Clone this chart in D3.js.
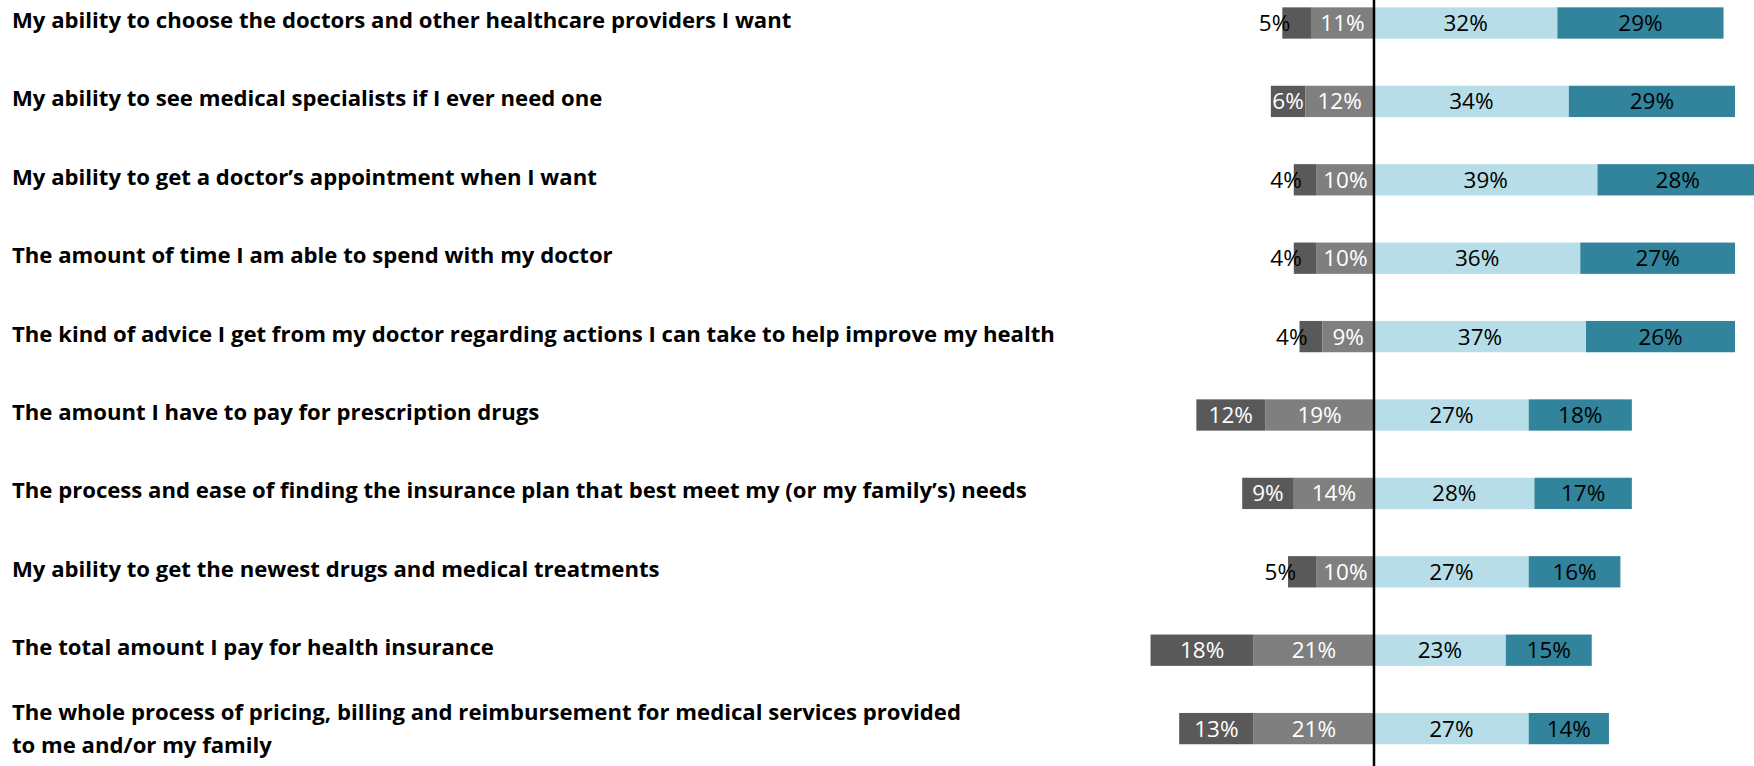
<!DOCTYPE html>
<html>
<head>
<meta charset="utf-8">
<script src="https://cdn.jsdelivr.net/npm/d3@7/dist/d3.min.js"></script>
<style>
  html, body { margin: 0; padding: 0; background: #ffffff; }
  svg { display: block; }
</style>
</head>
<body>
<svg id="chart" width="1754" height="766"></svg>
<script>
// ---- Data ----
const categories = [
  ["My ability to choose the doctors and other healthcare providers I want"],
  ["My ability to see medical specialists if I ever need one"],
  ["My ability to get a doctor’s appointment when I want"],
  ["The amount of time I am able to spend with my doctor"],
  ["The kind of advice I get from my doctor regarding actions I can take to help improve my health"],
  ["The amount I have to pay for prescription drugs"],
  ["The process and ease of finding the insurance plan that best meet my (or my family’s) needs"],
  ["My ability to get the newest drugs and medical treatments"],
  ["The total amount I pay for health insurance"],
  ["The whole process of pricing, billing and reimbursement for medical services provided", "to me and/or my family"]
];
const veryDissatisfied   = [5, 6, 4, 4, 4, 12, 9, 5, 18, 13];
const somewhatDissatisfied = [11, 12, 10, 10, 9, 19, 14, 10, 21, 21];
const somewhatSatisfied  = [32, 34, 39, 36, 37, 27, 28, 27, 23, 27];
const verySatisfied      = [29, 29, 28, 27, 26, 18, 17, 16, 15, 14];

// ---- Layout ----
const W = 1754, H = 766;
const zeroX = 1374, pxPerPct = 5.73;
const x = d3.scaleLinear()
  .domain([-40, 67])
  .range([zeroX - 40 * pxPerPct, zeroX + 67 * pxPerPct]);
const y = d3.scalePoint()
  .domain(d3.range(categories.length))
  .range([23, 23 + 9 * 78.4]);
const barH = 31.3;

const colors = { vd: "#595959", sd: "#7f7f7f", ss: "#b7dee8", vs: "#31849b" };

const svg = d3.select("#chart");

// Build segments
const segs = [];
categories.forEach((c, i) => {
  const vd = veryDissatisfied[i], sd = somewhatDissatisfied[i];
  const ss = somewhatSatisfied[i], vs = verySatisfied[i];
  segs.push({ i, key: "vd", v: vd, x0: -(vd + sd), x1: -sd });
  segs.push({ i, key: "sd", v: sd, x0: -sd, x1: 0 });
  segs.push({ i, key: "ss", v: ss, x0: 0, x1: ss });
  segs.push({ i, key: "vs", v: vs, x0: ss, x1: ss + vs });
});

svg.append("g").selectAll("rect")
  .data(segs)
  .join("rect")
  .attr("x", d => x(d.x0))
  .attr("y", d => y(d.i) - barH / 2)
  .attr("width", d => x(d.x1) - x(d.x0))
  .attr("height", barH)
  .attr("fill", d => colors[d.key]);

// Value labels
const font = "'Open Sans', 'Noto Sans', sans-serif";
const isSmall = d => d.key === "vd" && d.v <= 5;
svg.append("g").selectAll("text")
  .data(segs)
  .join("text")
  .attr("x", d => isSmall(d) ? x(d.x0) + 8 : (x(d.x0) + x(d.x1)) / 2)
  .attr("y", d => y(d.i) + 8)
  .attr("text-anchor", d => isSmall(d) ? "end" : "middle")
  .attr("font-family", font)
  .attr("font-size", 22.5)
  .attr("fill", d => isSmall(d) ? "#000000" : ((d.key === "vd" || d.key === "sd") ? "#ffffff" : "#000000"))
  .text(d => d.v + "%");

// Center axis line
svg.append("line")
  .attr("x1", x(0)).attr("x2", x(0))
  .attr("y1", 0).attr("y2", H)
  .attr("stroke", "#000000")
  .attr("stroke-width", 2.5);

// Category labels
const catG = svg.append("g")
  .attr("font-family", font)
  .attr("font-weight", "bold")
  .attr("fill", "#000000");
categories.forEach((lines, i) => {
  const t = catG.append("text").attr("class", "cat");
  if (lines.length === 1) {
    t.append("tspan").attr("x", 12).attr("y", y(i) + 5).text(lines[0]);
  } else {
    t.append("tspan").attr("x", 12).attr("y", y(i) - 9).text(lines[0]);
    t.append("tspan").attr("x", 12).attr("y", y(i) + 24).text(lines[1]);
  }
});
// fit font size so the first label spans the same width as in the source
catG.attr("font-size", 20);
const w20 = catG.select("text.cat").node().getComputedTextLength();
catG.attr("font-size", 20 * 780 / w20);
</script>
</body>
</html>
